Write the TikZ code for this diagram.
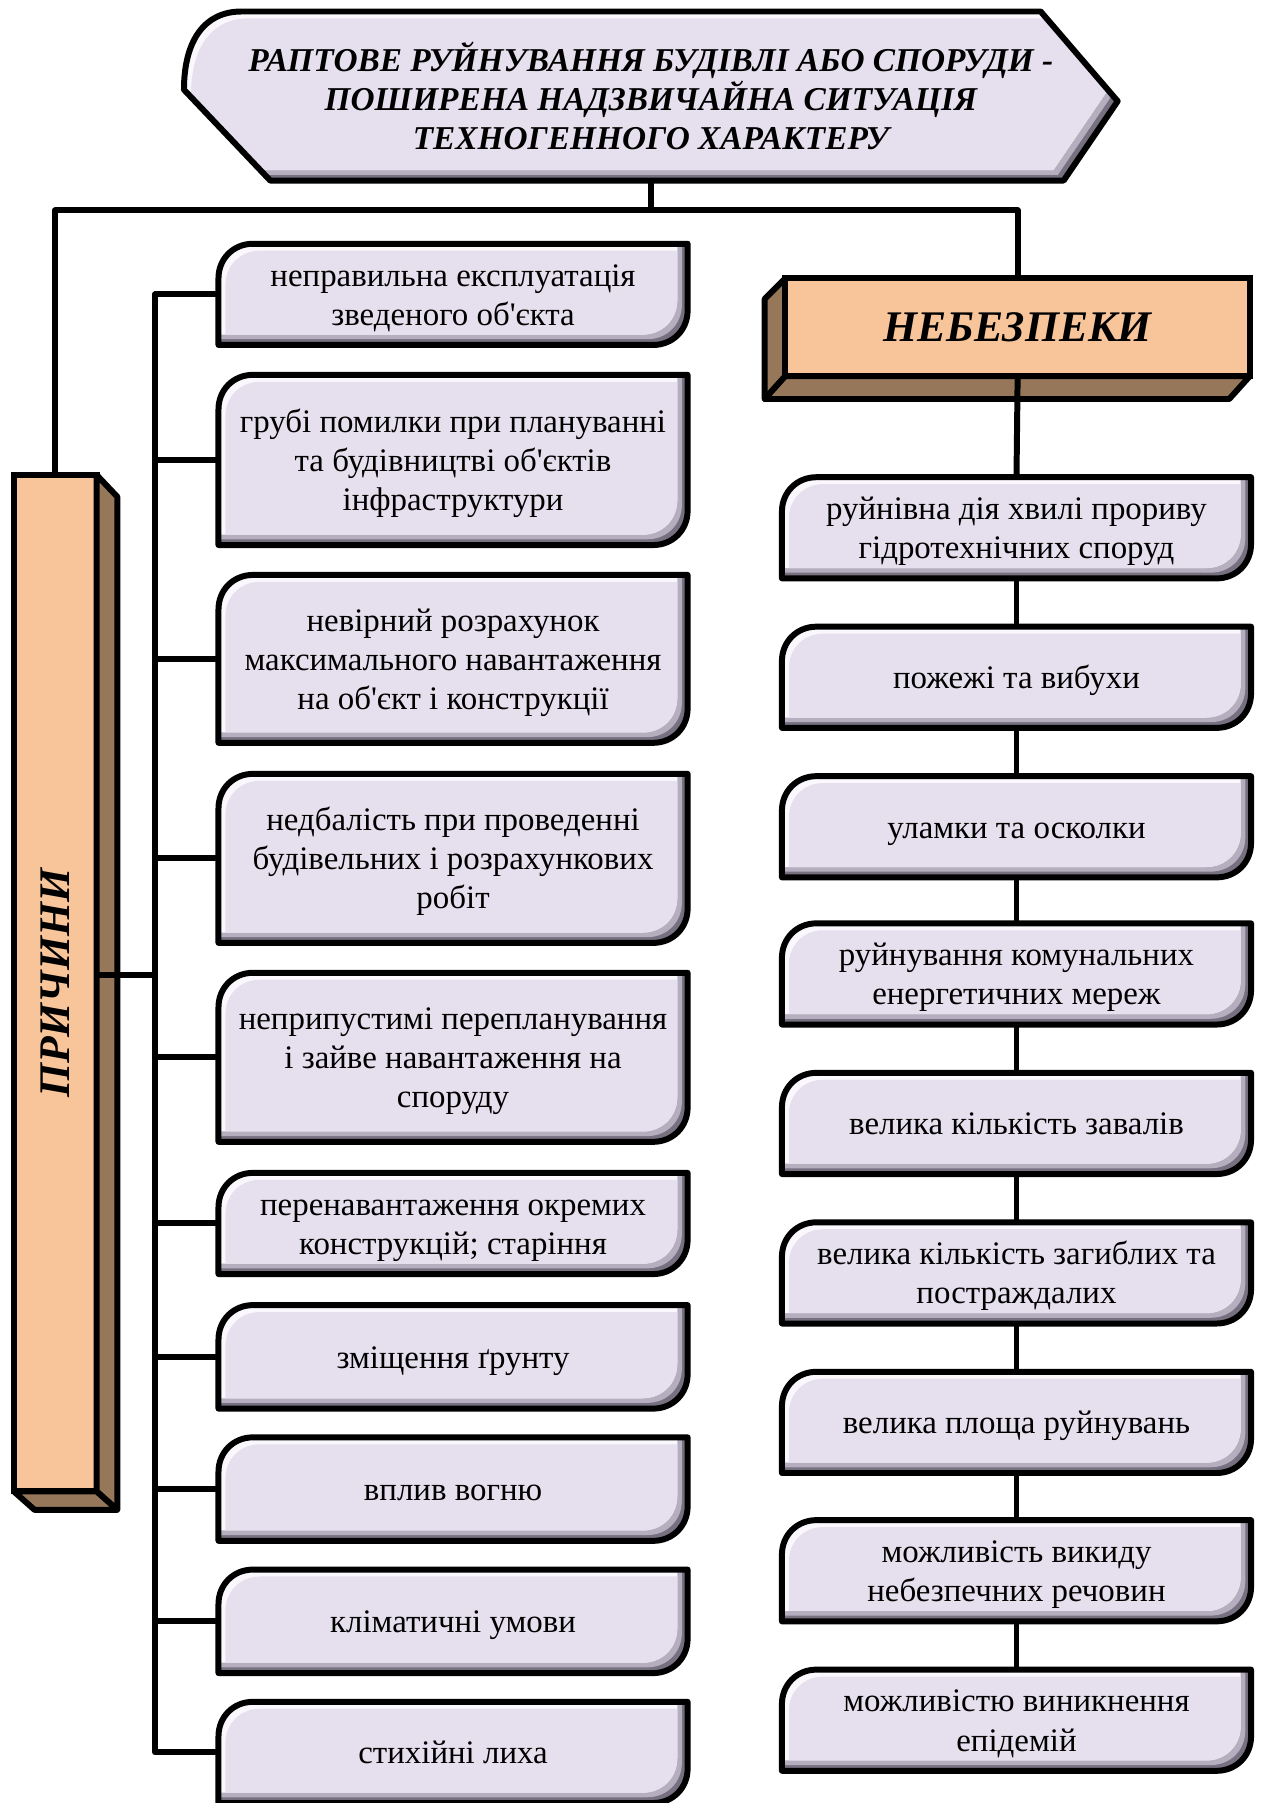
\documentclass[tikz,border=0pt]{standalone}
\usepackage{fontspec}
\setmainfont{Liberation Serif}
\definecolor{lav}{RGB}{230,224,238}
\definecolor{bevL}{RGB}{250,248,253}
\definecolor{bevM}{RGB}{180,174,190}
\definecolor{bevD}{RGB}{118,112,128}
\definecolor{peach}{RGB}{248,197,155}
\definecolor{brownside}{RGB}{151,119,90}
\tikzset{
  txt/.style={align=center,inner sep=0pt,outer sep=0pt,font=\fontsize{14.3}{17}\selectfont},
  conn/.style={line width=2.6pt,line join=round},
  face/.style={fill=brownside,draw=black,line width=2.6pt,line join=round},
  front/.style={fill=peach,draw=black,line width=2.6pt,inner sep=0pt,outer sep=0pt},
  bigtxt/.style={font=\fontsize{19}{22}\selectfont\bfseries\itshape}
}
\newcommand\bevel[1]{%
 \begin{scope}
  \clip #1;
  \fill[bevD] #1;
  \fill[bevM,shift={(-5,-5)}] #1;
  \fill[bevL,shift={(-9,-9)}] #1;
  \begin{scope}
   \clip[shift={(6,6)}] #1;
   \fill[lav,shift={(-9,-9)}] #1;
  \end{scope}
 \end{scope}
 \draw[line width=2.6pt,line join=round] #1;}
\newcommand\cbox[6]{%
 \bevel{(#2,#3+#5) -- (#2,#3+30) .. controls (#2,#3+13) and (#2+13,#3) .. (#2+30,#3) -- (#2+#4,#3) -- (#2+#4,#3+#5-30) .. controls (#2+#4,#3+#5-13) and (#2+#4-13,#3+#5) .. (#2+#4-30,#3+#5) -- cycle}
 \node[txt,minimum width=#4*0.5pt,minimum height=#5*0.5pt] (#1) at (#2+#4/2,#3+#5/2) {\raisebox{-1.5pt}[\height][\depth]{\begin{tabular}{@{}c@{}}#6\end{tabular}}};}
\begin{document}
\begin{tikzpicture}[x=0.5pt,y=-0.5pt]
\useasboundingbox (0,0) rectangle (1097,1568);
% title banner
\bevel{(160,78) .. controls (160,35) and (178,10) .. (210,10) -- (905,10) -- (972,88) -- (925,157) -- (235,157) -- cycle}
\node[txt,font=\fontsize{14.5}{17}\selectfont\bfseries\itshape,minimum width=812*0.5pt,minimum height=147*0.5pt] (title) at (566,83.5)
 {РАПТОВЕ РУЙНУВАННЯ БУДІВЛІ АБО СПОРУДИ -\\ПОШИРЕНА НАДЗВИЧАЙНА СИТУАЦІЯ\\ТЕХНОГЕННОГО ХАРАКТЕРУ};
% ПРИЧИНИ box
\node[front,minimum width=72*0.5pt,minimum height=884*0.5pt] (pr) at (48,855) {};
\filldraw[face] (84,413) -- (102,432) -- (102,1313) -- (84,1297) -- cycle;
\filldraw[face] (12,1297) -- (30,1313) -- (102,1313) -- (84,1297) -- cycle;
\node[bigtxt,rotate=90] (prl) at (pr.center) {ПРИЧИНИ};
% НЕБЕЗПЕКИ box
\filldraw[face] (683,242) -- (665,260) -- (665,347) -- (683,327) -- cycle;
\filldraw[face] (683,327) -- (665,347) -- (1069,347) -- (1087,327) -- cycle;
\node[front,bigtxt,minimum width=404*0.5pt,minimum height=85*0.5pt] (nb) at (885,284.5) {НЕБЕЗПЕКИ};
% left boxes
\cbox{l1}{190}{212}{408}{88}{неправильна експлуатація\\зведеного об\textquotesingle єкта}
\cbox{l2}{190}{326}{408}{148}{грубі помилки при плануванні\\та будівництві об\textquotesingle єктів\\інфраструктури}
\cbox{l3}{190}{500}{408}{146}{невірний розрахунок\\максимального навантаження\\на об\textquotesingle єкт і конструкції}
\cbox{l4}{190}{673}{408}{147}{недбалість при проведенні\\будівельних і розрахункових\\робіт}
\cbox{l5}{190}{846}{408}{147}{неприпустимі перепланування\\і зайве навантаження на\\споруду}
\cbox{l6}{190}{1020}{408}{88}{перенавантаження окремих\\конструкцій; старіння}
\cbox{l7}{190}{1135}{408}{90}{зміщення ґрунту}
\cbox{l8}{190}{1250}{408}{90}{вплив вогню}
\cbox{l9}{190}{1365}{408}{90}{кліматичні умови}
\cbox{l10}{190}{1480}{408}{88}{стихійні лиха}
% right boxes
\cbox{r1}{680}{415}{408}{88}{руйнівна дія хвилі прориву\\гідротехнічних споруд}
\cbox{r2}{680}{545}{408}{88}{пожежі та вибухи}
\cbox{r3}{680}{675}{408}{88}{уламки та осколки}
\cbox{r4}{680}{803}{408}{88}{руйнування комунальних\\енергетичних мереж}
\cbox{r5}{680}{933}{408}{88}{велика кількість завалів}
\cbox{r6}{680}{1063}{408}{88}{велика кількість загиблих та\\постраждалих}
\cbox{r7}{680}{1193}{408}{88}{велика площа руйнувань}
\cbox{r8}{680}{1322}{408}{88}{можливість викиду\\небезпечних речовин}
\cbox{r9}{680}{1452}{408}{88}{можливістю виникнення\\епідемій}
% connectors
\coordinate (jn) at (566,183);
\coordinate (bx) at (135,0);
\draw[conn] (title.south) -- (jn);
\draw[conn] (pr.north) |- (jn) -| (nb.north);
\draw[conn] (l1.west) -| (l10.west -| bx) -- (l10.west);
\foreach \i in {2,...,9} \draw[conn] (l\i.west -| bx) -- (l\i.west);
\draw[conn] ([yshift=3.5pt]pr.east) -- ([yshift=3.5pt]pr.east -| bx);
\draw[conn] (nb.south) -- (r1.north);
\foreach \i [evaluate=\i as \j using int(\i+1)] in {1,...,8} \draw[conn] (r\i.south) -- (r\j.north);
\end{tikzpicture}
\end{document}
